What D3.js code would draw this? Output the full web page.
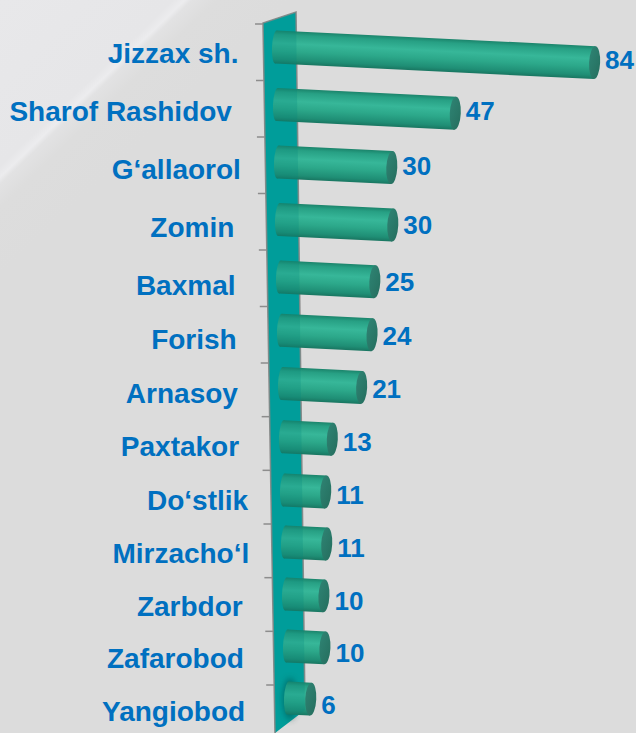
<!DOCTYPE html>
<html>
<head>
<meta charset="utf-8">
<script src="https://cdn.jsdelivr.net/npm/d3@7"></script>
<style>
  html, body { margin: 0; padding: 0; background: #dcdcdc; }
  svg { display: block; }
</style>
</head>
<body>
<script>
// District names (trailing spaces kept as in the source labels) and their counts
const categories = ["Jizzax sh.", "Sharof Rashidov ", "G\u2018allaorol", "Zomin ", "Baxmal ", "Forish ",
  "Arnasoy ", "Paxtakor ", "Do\u2018stlik", "Mirzacho\u2018l", "Zarbdor ", "Zafarobod ", "Yangiobod "];
const values = [84, 47, 30, 30, 25, 24, 21, 13, 11, 11, 10, 10, 6];
const tickCount = 14;

const W = 636, H = 733;
const labelColor = "#0070c0";
const fontFamily = "'Liberation Sans', Arial, Helvetica, sans-serif";

const svg = d3.select("body").append("svg").attr("width", W).attr("height", H);
const defs = svg.append("defs");

// ---- background: light grey with a soft diagonal sheen in the top-left corner
const bg = defs.append("linearGradient").attr("id", "bg")
  .attr("gradientUnits", "userSpaceOnUse")
  .attr("x1", 0).attr("y1", 0).attr("x2", 138.4).attr("y2", 144.4);
[[0, "#e8e8ea"], [0.6, "#e6e6e8"], [0.64, "#ececee"], [0.665, "#e2e2e3"], [0.75, "#dddddd"], [1, "#dcdcdc"]]
  .forEach(([o, c]) => bg.append("stop").attr("offset", o).attr("stop-color", c));
svg.append("rect").attr("width", W).attr("height", H).attr("fill", "url(#bg)");

// ---- cylinder shading
const body = defs.append("linearGradient").attr("id", "body")
  .attr("x1", 0).attr("y1", 0).attr("x2", 0).attr("y2", 1);
[[0, "#1b846b"], [0.12, "#27a084"], [0.38, "#37b799"], [0.62, "#2ca88a"], [0.88, "#1f8e75"], [1, "#197661"]]
  .forEach(([o, c]) => body.append("stop").attr("offset", o).attr("stop-color", c));
const cap = defs.append("linearGradient").attr("id", "cap")
  .attr("x1", 0).attr("y1", 0).attr("x2", 1).attr("y2", 1);
[[0, "#2f8474"], [1, "#256e5e"]]
  .forEach(([o, c]) => cap.append("stop").attr("offset", o).attr("stop-color", c));
defs.append("filter").attr("id", "soft").attr("x", "-50%").attr("y", "-50%").attr("width", "200%").attr("height", "200%")
  .append("feGaussianBlur").attr("stdDeviation", 3);

// ---- scales (the slight non-linearity models the perspective of the 3-D view)
const yBar = d3.scaleLinear().domain([0, 4, 8, 12]).range([47, 277, 490, 698]);   // left end of each bar axis
const xStart = d3.scaleLinear().domain([0, categories.length - 1]).range([276, 288]);
const xLen = d3.scaleLinear().domain([0, d3.max(values)]).range([0, 319]);
const yTick = d3.scaleLinear().domain([0, 6, 12]).range([24, 363, 685]);
const wallLeft = d3.scaleLinear().domain([23, 733]).range([263, 275]);
const wallRight = d3.scaleLinear().domain([12, 710]).range([296, 305]);
const tilt = 0.049;
const theta = Math.atan(tilt);
const angle = theta * 180 / Math.PI;
const R = 16.5, capRx = 5.5;

// ---- back wall
const wallTop = yTick(0) - 1;
const wallPts = [[wallLeft(wallTop), wallTop], [wallRight(12), 12], [wallRight(710), 710], [wallLeft(H), H]];
svg.append("polygon").attr("points", wallPts.map(p => p.join(",")).join(" "))
  .attr("fill", "#00a5a3");
svg.append("polyline")
  .attr("points", [wallPts[3], wallPts[0], wallPts[1], wallPts[2]].map(p => p.join(",")).join(" "))
  .attr("fill", "none").attr("stroke", "#8d8d8d").attr("stroke-width", 1.6);

// axis ticks on the wall edge
d3.range(tickCount).forEach(k => {
  const y = yTick(k);
  svg.append("line")
    .attr("x1", wallLeft(y) - 8).attr("x2", wallLeft(y))
    .attr("y1", y).attr("y2", y)
    .attr("stroke", "#8d8d8d").attr("stroke-width", 1.5);
});

// soft shadow of the lowest bar where it meets the floor
const last = categories.length - 1;
svg.append("ellipse")
  .attr("cx", xStart(last) + 2).attr("cy", yBar(last) + 1)
  .attr("rx", 7).attr("ry", 21)
  .attr("fill", "#003a38").attr("opacity", 0.55)
  .attr("filter", "url(#soft)");

// ---- cylinders
const bars = svg.append("g");
categories.forEach((c, i) => {
  const len = xLen(values[i]);
  const g = bars.append("g")
    .attr("transform", `translate(${xStart(i)},${yBar(i)}) rotate(${angle})`);
  g.append("ellipse").attr("cx", 0).attr("cy", 0).attr("rx", 4).attr("ry", R).attr("fill", "url(#body)");
  g.append("rect").attr("x", 0).attr("y", -R).attr("width", len).attr("height", 2 * R).attr("fill", "url(#body)");
  g.append("ellipse").attr("cx", len).attr("cy", 0).attr("rx", capRx).attr("ry", R).attr("fill", "url(#cap)");
});

// the translucent front of the wall tints the bar roots
svg.append("polygon").attr("points", wallPts.map(p => p.join(",")).join(" "))
  .attr("fill", "#00857f").attr("opacity", 0.24);

// ---- category labels
svg.append("g").selectAll("text").data(categories).join("text")
  .attr("x", (d, i) => 238.5 + 1.2 * i)
  .attr("y", (d, i) => yBar(i) + 5.5 + 0.6 * i + 10)
  .attr("text-anchor", "end")
  .attr("xml:space", "preserve")
  .style("white-space", "pre")
  .attr("font-family", fontFamily)
  .attr("font-weight", "bold")
  .attr("font-size", 28)
  .attr("fill", labelColor)
  .text(d => d);

// ---- value labels at the bar ends
svg.append("g").selectAll("text").data(values).join("text")
  .attr("x", (v, i) => xStart(i) + xLen(v) * Math.cos(theta) + capRx + 5)
  .attr("y", (v, i) => yBar(i) + xLen(v) * Math.sin(theta) - 3 + 0.75 * i + 9.3)
  .attr("font-family", fontFamily)
  .attr("font-weight", "bold")
  .attr("font-size", 26)
  .attr("fill", labelColor)
  .text(v => v);
</script>
</body>
</html>
